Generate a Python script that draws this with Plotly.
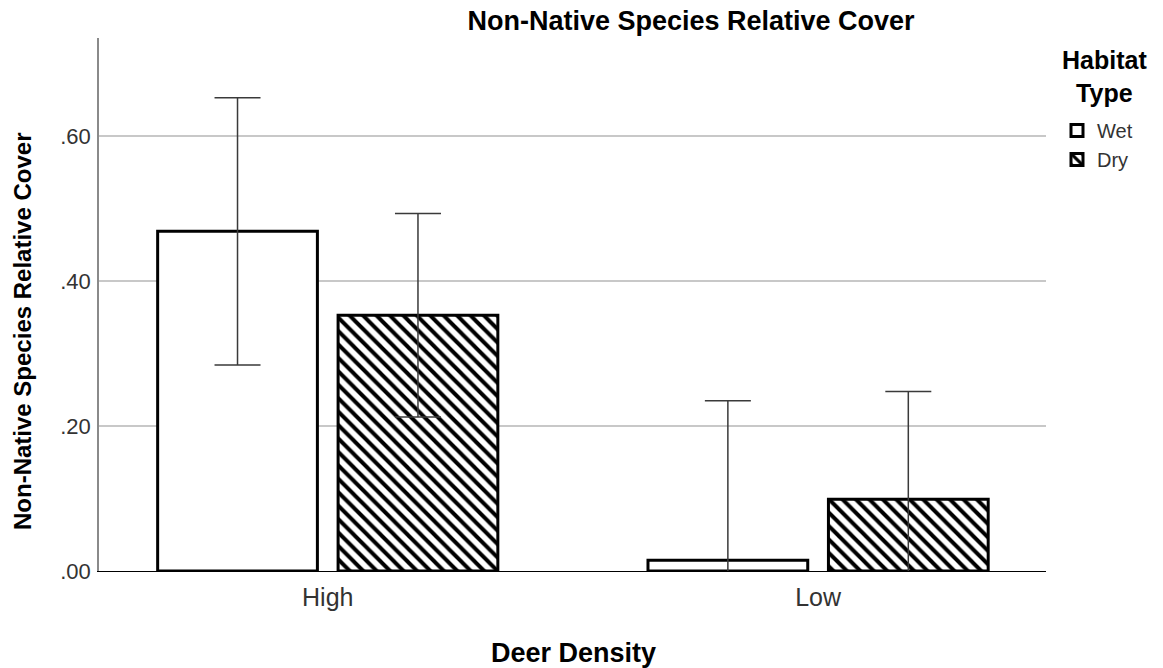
import plotly.graph_objects as go

categories = ["High", "Low"]
habitats = ["Wet", "Dry"]
wet_means = [0.469, 0.015]
wet_errors = [0.1845, 0.220]
dry_means = [0.353, 0.099]
dry_errors = [0.1405, 0.1487]
ytick_vals = [0.0, 0.2, 0.4, 0.6]
ytick_text = [".00", ".20", ".40", ".60"]

FONT = "Liberation Sans, Arial, sans-serif"

fig = go.Figure()
fig.add_trace(go.Bar(
    name=habitats[0], x=categories, y=wet_means,
    marker=dict(color="white", line=dict(color="black", width=3)),
    error_y=dict(type="data", array=wet_errors, symmetric=True,
                 color="#3a3a3a", thickness=1.5, width=23),
))
fig.add_trace(go.Bar(
    name=habitats[1], x=categories, y=dry_means,
    marker=dict(color="white", line=dict(color="black", width=3),
                pattern=dict(shape="\\", fgcolor="black", bgcolor="white",
                             fgopacity=1, size=9.5, solidity=0.42)),
    error_y=dict(type="data", array=dry_errors, symmetric=True,
                 color="#3a3a3a", thickness=1.5, width=23),
))

fig.update_layout(
    width=1163, height=668,
    margin=dict(l=99, r=117, t=38, b=97),
    paper_bgcolor="white", plot_bgcolor="white",
    barmode="group", bargap=0.264, bargroupgap=0.1147,
    font=dict(family=FONT, color="#333333"),
    title=dict(text="<b>Non-Native Species Relative Cover</b>",
               font=dict(family=FONT, size=27, color="black"),
               x=691 / 1163, xref="container", xanchor="center",
               y=1 - 21 / 668, yref="container", yanchor="middle"),
    xaxis=dict(range=[-0.4665, 1.4648], showline=True, linecolor="black",
               linewidth=1, showgrid=False, ticks="", ticklabelstandoff=4,
               tickfont=dict(family=FONT, size=25, color="#333333")),
    yaxis=dict(range=[0, 0.736], tickvals=ytick_vals, ticktext=ytick_text,
               showline=True, linecolor="#8a8a8a", linewidth=1.5,
               showgrid=True, gridcolor="#c8c8c8", gridwidth=1.5,
               zeroline=False, ticks="", ticklabelstandoff=2,
               tickfont=dict(family=FONT, size=22, color="#333333")),
    legend=dict(font=dict(family=FONT, size=20, color="#333333"),
                x=(1057 - 99) / 947, xanchor="left",
                y=(571 - 111) / 533, yanchor="top",
                bgcolor="rgba(0,0,0,0)", tracegroupgap=0),
    annotations=[
        dict(text="<b>Habitat<br>Type</b>", align="center",
             xref="paper", yref="paper", x=(1104 - 99) / 947, y=(571 - 76) / 533,
             xanchor="center", yanchor="middle", showarrow=False,
             font=dict(family=FONT, size=25, color="black")),
        dict(text="<b>Non-Native Species Relative Cover</b>", textangle=-90,
             xref="paper", yref="paper", x=(22 - 99) / 947, y=(571 - 331) / 533,
             xanchor="center", yanchor="middle", showarrow=False,
             font=dict(family=FONT, size=24, color="black")),
        dict(text="<b>Deer Density</b>",
             xref="paper", yref="paper", x=(573 - 99) / 947, y=(571 - 653) / 533,
             xanchor="center", yanchor="middle", showarrow=False,
             font=dict(family=FONT, size=27, color="black")),
    ],
)

fig.write_html("out.html")
